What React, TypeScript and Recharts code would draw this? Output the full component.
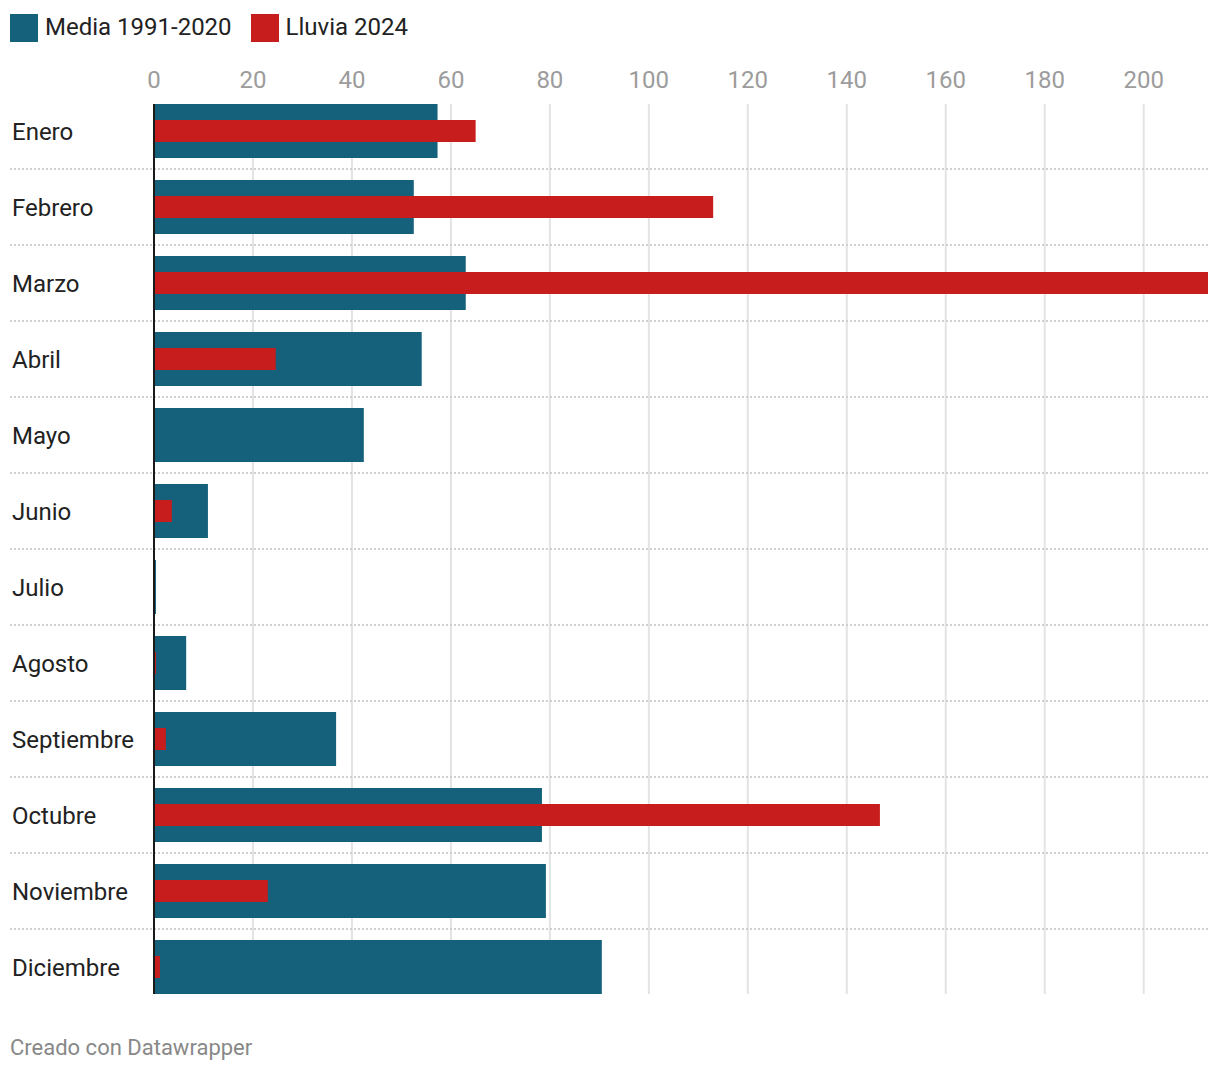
import { BarChart, Bar, XAxis, YAxis, CartesianGrid, ReferenceLine } from 'recharts';

const months = ['Enero', 'Febrero', 'Marzo', 'Abril', 'Mayo', 'Junio', 'Julio', 'Agosto', 'Septiembre', 'Octubre', 'Noviembre', 'Diciembre'];
const media = [57.3, 52.5, 63.0, 54.1, 42.4, 10.9, 0.4, 6.5, 36.8, 78.4, 79.2, 90.5];
const lluvia = [65.0, 113.0, 213.0, 24.6, 0, 3.6, 0, 0.4, 2.4, 146.7, 23.0, 1.2];
const xTicks = [0, 20, 40, 60, 80, 100, 120, 140, 160, 180, 200];

const data = months.map((mes, i) => ({ mes, media: media[i], lluvia: lluvia[i] }));
const xMax = Math.max(...media, ...lluvia);

const BLUE = '#15607a';
const RED = '#c71e1d';
const FONT = 'Roboto, "Noto Sans", sans-serif';

const W = 1220;
const H = 1072;
const margin = { top: 63, right: 12, bottom: 67, left: 12 };
const X_AXIS_H = 30;
const Y_AXIS_W = 142;
const BLUE_SIZE = 54;
const RED_SIZE = 22;

const plotTop = margin.top + X_AXIS_H;
const plotHeight = H - plotTop - margin.bottom;
const rowH = plotHeight / months.length;
const inset = (rowH - BLUE_SIZE) / 2;
const plotRight = W - margin.right;

function MonthTick(props: any) {
  const { y, payload } = props;
  return (
    <text x={margin.left} y={y} dy={8.5} fill="#222" fontSize={24} fontFamily={FONT} textAnchor="start">
      {payload.value}
    </text>
  );
}

function Baseline(props: any) {
  const { x1, y1, x2, y2 } = props;
  return <line x1={x1} x2={x2} y1={y1 + inset} y2={y2 - inset} stroke="#1a1a1a" strokeWidth={2} />;
}

function Legend() {
  const item = (color: string, label: string) => (
    <div style={{ display: 'flex', alignItems: 'center', marginRight: 19 }}>
      <div style={{ width: 28, height: 28, background: color, marginRight: 7 }} />
      <span style={{ fontSize: 24, color: '#222', lineHeight: '28px', position: 'relative', top: -1 }}>{label}</span>
    </div>
  );
  return (
    <div style={{ position: 'absolute', left: 10, top: 14, display: 'flex', fontFamily: FONT }}>
      {item(BLUE, 'Media 1991-2020')}
      {item(RED, 'Lluvia 2024')}
    </div>
  );
}

export default function App() {
  return (
    <div style={{ position: 'absolute', left: 0, top: 0, width: W, height: H, background: '#fff', fontFamily: FONT }}>
      <Legend />
      <BarChart width={W} height={H} data={data} layout="vertical" margin={margin}>
        <CartesianGrid
          horizontal={false}
          stroke="#e3e3e3"
          strokeWidth={2}
          y={plotTop + inset}
          height={plotHeight - 2 * inset}
          verticalCoordinatesGenerator={({ offset }: any) =>
            xTicks.map((t) => offset.left + (t / xMax) * offset.width)
          }
        />
        <CartesianGrid
          vertical={false}
          stroke="#cfcfcf"
          strokeWidth={2}
          strokeDasharray="2 2"
          x={10}
          width={plotRight - 10}
          horizontalCoordinatesGenerator={({ offset }: any) =>
            months.slice(1).map((_, i) => offset.top + ((i + 1) * offset.height) / months.length)
          }
        />
        <XAxis
          type="number"
          orientation="top"
          domain={[0, 'dataMax']}
          ticks={xTicks}
          height={X_AXIS_H}
          axisLine={false}
          tickLine={false}
          tickSize={0}
          tickMargin={5}
          tick={{ fill: '#9c9c9c', fontSize: 24, fontFamily: FONT }}
          allowDataOverflow
        />
        <YAxis
          yAxisId="a"
          type="category"
          dataKey="mes"
          width={Y_AXIS_W}
          axisLine={false}
          tickLine={false}
          tick={<MonthTick />}
          interval={0}
        />
        <YAxis yAxisId="b" type="category" dataKey="mes" hide />
        <Bar yAxisId="a" dataKey="media" fill={BLUE} barSize={BLUE_SIZE} isAnimationActive={false} />
        <Bar yAxisId="b" dataKey="lluvia" fill={RED} barSize={RED_SIZE} isAnimationActive={false} />
        <ReferenceLine yAxisId="a" x={0} shape={<Baseline />} />
      </BarChart>
      <div style={{ position: 'absolute', left: 10, top: 1035, fontSize: 22, color: '#888', fontFamily: FONT }}>
        Creado con Datawrapper
      </div>
    </div>
  );
}
